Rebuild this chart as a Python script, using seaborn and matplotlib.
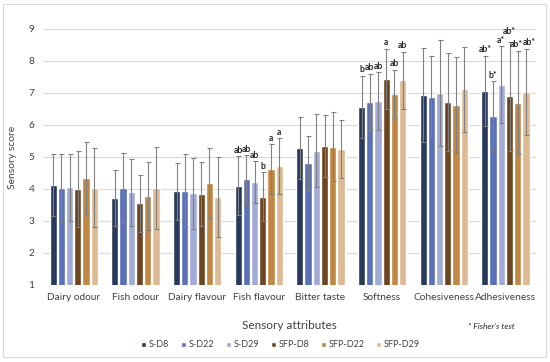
import pandas as pd
import matplotlib.pyplot as plt
import seaborn as sns
from matplotlib.patches import Rectangle

attributes = ['Dairy odour', 'Fish odour', 'Dairy flavour', 'Fish flavour',
              'Bitter taste', 'Softness', 'Cohesiveness', 'Adhesiveness']
samples = ['S-D8', 'S-D22', 'S-D29', 'SFP-D8', 'SFP-D22', 'SFP-D29']

# mean scores per sample
s_d8 = [4.13, 3.72, 3.92, 4.10, 5.28, 6.56, 6.93, 7.06]
s_d22 = [4.03, 4.02, 3.95, 4.30, 4.80, 6.72, 6.88, 6.29]
s_d29 = [4.05, 3.90, 3.87, 4.22, 5.20, 6.74, 7.01, 7.26]
sfp_d8 = [4.00, 3.55, 3.84, 3.76, 5.35, 7.44, 6.72, 6.89]
sfp_d22 = [4.35, 3.78, 4.18, 4.62, 5.32, 6.98, 6.62, 6.70]
sfp_d29 = [4.04, 4.03, 3.75, 4.72, 5.24, 7.40, 7.12, 7.04]

# standard deviations
sd_s_d8 = [0.97, 0.88, 0.90, 0.93, 0.96, 0.98, 1.47, 1.10]
sd_s_d22 = [1.07, 1.10, 1.15, 0.76, 0.85, 0.88, 1.27, 1.07]
sd_s_d29 = [1.05, 1.05, 1.11, 0.65, 1.14, 0.90, 1.66, 1.20]
sd_sfp_d8 = [1.18, 0.90, 1.00, 0.76, 0.97, 0.94, 1.54, 1.70]
sd_sfp_d22 = [1.12, 1.06, 1.10, 0.78, 1.08, 0.75, 1.50, 1.62]
sd_sfp_d29 = [1.23, 1.27, 1.25, 0.87, 0.90, 0.89, 1.33, 1.34]

# significance letters
fish_flavour_letters = ['ab', 'ab', 'ab', 'b', 'a', 'a']
softness_letters = ['b', 'ab', 'ab', 'a', 'ab', 'ab']
adhesiveness_letters = ['ab*', 'b*', 'a*', 'ab*', 'ab*', 'ab*']

means = [s_d8, s_d22, s_d29, sfp_d8, sfp_d22, sfp_d29]
sds = [sd_s_d8, sd_s_d22, sd_s_d29, sd_sfp_d8, sd_sfp_d22, sd_sfp_d29]
letters = {'Fish flavour': fish_flavour_letters,
           'Softness': softness_letters,
           'Adhesiveness': adhesiveness_letters}

colors = ['#203864', '#4a6ac6', '#9aa5dd', '#7a4413', '#d6892f', '#e9bb88']

rows = []
for s, m in zip(samples, means):
    for a, v in zip(attributes, m):
        rows.append({'attribute': a, 'sample': s, 'score': v})
df = pd.DataFrame(rows)

sns.set_style('white')
plt.rcParams['font.family'] = ['Lato', 'DejaVu Sans']

fig = plt.figure(figsize=(5.5, 3.62), dpi=100)
ax = fig.add_axes([0.078, 0.213, 0.897, 0.707])

sns.barplot(data=df, x='attribute', y='score', hue='sample', order=attributes,
            hue_order=samples, palette=colors, width=0.8, gap=0.12,
            errorbar=None, ax=ax, zorder=2)

bar_groups = list(ax.containers)
for i, cont in enumerate(bar_groups):
    xs = [p.get_x() + p.get_width() / 2 for p in cont.patches]
    ax.errorbar(xs, means[i], yerr=sds[i], fmt='none', ecolor='#808080',
                elinewidth=0.8, capsize=1.8, capthick=0.8, zorder=3)
    for j, a in enumerate(attributes):
        if a in letters:
            top = means[i][j] + sds[i][j]
            dx, dy = 0, 1
            if a == 'Adhesiveness':
                if samples[i] == 'SFP-D8':
                    dy = 4.5
                elif samples[i] == 'SFP-D22':
                    dx = -1
                elif samples[i] == 'SFP-D29':
                    dx = 2.5
            ax.annotate(letters[a][i], (xs[j], top), xytext=(dx, dy),
                        textcoords='offset points', ha='center', va='bottom',
                        fontsize=6.2, fontweight='bold', color='#262626')

ax.set_ylim(1, 9)
ax.set_yticks(range(1, 10))
ax.set_xlim(-0.5, len(attributes) - 0.5)
ax.grid(axis='y', color='#d9d9d9', lw=0.8, zorder=0)
ax.set_axisbelow(True)
sns.despine(ax=ax, left=True, bottom=True)
ax.tick_params(length=0, labelsize=7.3, colors='#404040', pad=6)
ax.set_ylabel('Sensory score', fontsize=7.5, color='#404040', labelpad=8)
ax.set_xlabel('Sensory attributes', fontsize=8.5, color='#404040', labelpad=13)

handles, labels = ax.get_legend_handles_labels()
ax.get_legend().remove()
fig.legend(handles, labels, loc='center', bbox_to_anchor=(0.51, 0.047), ncol=6,
           frameon=False, fontsize=6.5, handlelength=0.55, handleheight=0.55,
           handletextpad=0.3, columnspacing=1.3, labelcolor='#404040')

fig.text(0.935, 0.097, '* Fisher\u2019s test', ha='right', va='center',
         fontsize=6, style='italic', color='#262626')

fig.patches.append(Rectangle((0.006, 0.014), 0.987, 0.975, transform=fig.transFigure,
                             fill=False, edgecolor='#d9d9d9', lw=0.8))

fig.savefig('out.png', dpi=100)
